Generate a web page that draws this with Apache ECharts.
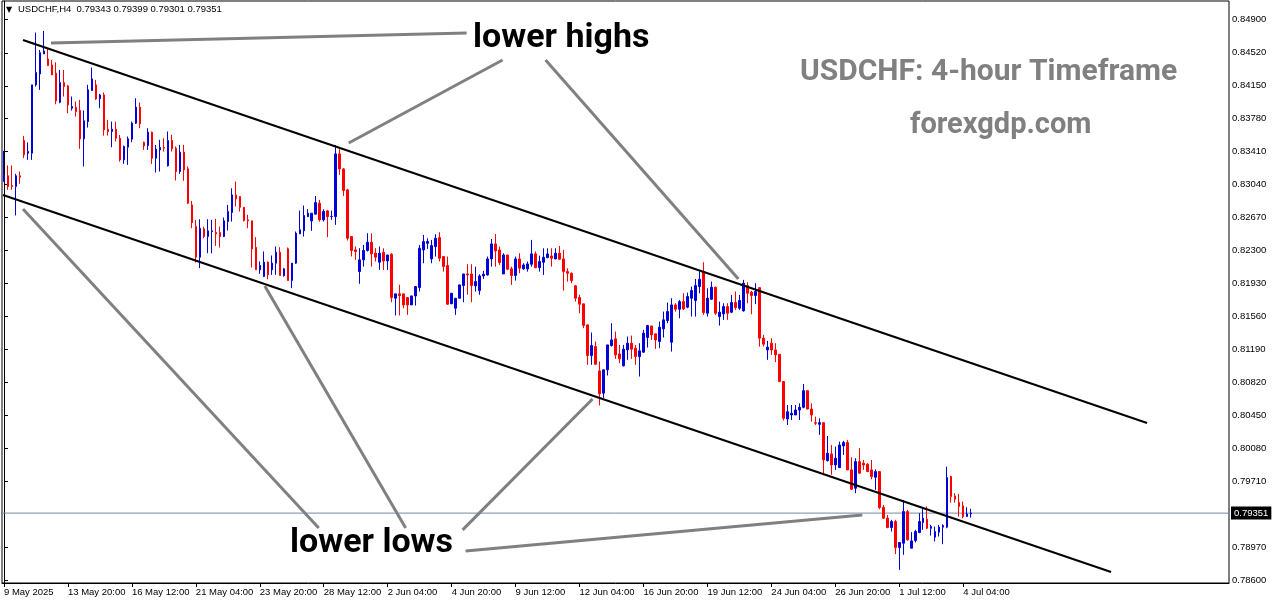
<!DOCTYPE html>
<html><head><meta charset="utf-8">
<script src="https://cdn.jsdelivr.net/npm/echarts@6/dist/echarts.min.js"></script>
<style>html,body{margin:0;padding:0;background:#fff}#c{width:1276px;height:604px}</style>
</head><body><div id="c"></div>
<script>
// ---- data (USDCHF H4 candles) ----
const openP = [
.83075,.83139,.83030,.83019,.83139,.83535,.83393,.83393,.84160,.84283,
.84508,.84451,.84384,.84291,.83965,.84186,.84148,.83898,.83909,.83872,
.83554,.83748,.84096,.84160,.84006,.84047,.83662,.83636,.83662,.83561,
.83318,.83460,.83550,.83730,.83909,.83513,.83479,.83629,.83337,.83430,
.83457,.83251,.83535,.83449,.83187,.83404,.83217,.82812,.82569,.82225,
.82543,.82457,.82513,.82502,.82502,.82457,.82625,.82726,.82924,.82906,
.82786,.82644,.82633,.82334,.82083,.82008,.82169,.82083,.82158,.82281,
.82016,.82319,.81963,.82158,.82487,.82521,.82681,.82633,.82708,.82831,
.82644,.82745,.82681,.82681,.83385,.83216,.82981,.82457,.82307,.82064,
.82195,.82300,.82393,.82270,.82169,.82280,.82183,.82258,.81764,.81813,
.81813,.81772,.81689,.81790,.81884,.82306,.82381,.82206,.82344,.82445,
.82232,.82131,.81701,.81652,.81764,.81906,.82037,.82037,.81903,.81850,
.82015,.82026,.82206,.82374,.82306,.82037,.82250,.82094,.82019,.82206,
.82094,.82094,.82146,.82262,.82108,.82168,.82220,.82239,.82206,.82269,
.82206,.82063,.82045,.81903,.81772,.81701,.81465,.81121,.81221,.80948,
.80698,.80960,.81233,.81308,.81139,.81005,.81184,.81259,.81203,.81109,
.81158,.81323,.81453,.81364,.81278,.81420,.81513,.81270,.81689,.81640,
.81726,.81663,.81764,.81738,.81895,.82063,.81596,.81753,.81887,.81558,
.81588,.81670,.81607,.81715,.81652,.81622,.81906,.81831,.81794,.81883,
.81315,.81184,.81259,.81184,.81135,.80829,.80408,.80453,.80453,.80509,
.80539,.80726,.80520,.80367,.80348,.80367,.79941,.80016,.79892,.79862,
.80105,.80143,.79836,.79630,.79929,.79911,.79900,.79836,.79754,.79817,
.79417,.79294,.79189,.79256,.78965,.79013,.79368,.78957,.79043,.79133,
.79245,.79282,.79181,.79081,.79137,.79193,.79193,.79761,.79544,.79469,
.79432,.79312,.79343];
const highP = [
.83419,.83255,.83255,.83161,.83187,.83587,.83513,.84160,.84747,.84552,
.84766,.84571,.84440,.84414,.84328,.84328,.84160,.84029,.83973,.83991,
.83872,.84160,.84354,.84216,.84059,.84074,.83767,.83748,.83748,.83599,
.83479,.83580,.83748,.84010,.83961,.83524,.83673,.83636,.83486,.83543,
.83561,.83636,.83599,.83468,.83486,.83486,.83243,.82857,.82644,.82651,
.82569,.82651,.82644,.82655,.82569,.82670,.82812,.82999,.83074,.82906,
.82786,.82700,.82633,.82450,.82176,.82289,.82176,.82244,.82345,.82337,
.82102,.82334,.82158,.82513,.82749,.82805,.82764,.82719,.82913,.82868,
.82764,.82756,.82749,.83485,.83448,.83224,.82992,.82457,.82345,.82326,
.82363,.82494,.82494,.82326,.82345,.82325,.82250,.82269,.81813,.81914,
.81813,.81772,.81790,.81895,.82363,.82475,.82437,.82419,.82482,.82505,
.82232,.82232,.81820,.81764,.81914,.82037,.82146,.82146,.82119,.82033,
.82071,.82232,.82430,.82486,.82344,.82269,.82250,.82119,.82232,.82269,
.82157,.82176,.82419,.82288,.82243,.82325,.82325,.82325,.82325,.82351,
.82306,.82101,.82052,.81914,.81802,.81701,.81465,.81379,.81278,.81053,
.80960,.81240,.81483,.81390,.81240,.81240,.81334,.81345,.81240,.81259,
.81409,.81465,.81453,.81364,.81502,.81614,.81715,.81764,.81708,.81745,
.81820,.81827,.81895,.81981,.82063,.82168,.81876,.81951,.81895,.81726,
.81708,.81708,.81801,.81839,.81801,.81970,.81943,.81846,.81932,.81883,
.81352,.81285,.81315,.81259,.81135,.80829,.80565,.80565,.80565,.80584,
.80801,.80726,.80584,.80434,.80416,.80367,.80217,.80116,.80098,.80154,
.80161,.80173,.79978,.79967,.80079,.79948,.79911,.79948,.79843,.79817,
.79443,.79331,.79275,.79275,.79021,.79499,.79387,.79137,.79163,.79350,
.79406,.79425,.79219,.79200,.79219,.79226,.79873,.79769,.79574,.79567,
.79481,.79417,.79399];
const lowP = [
.83075,.82982,.82982,.82694,.83049,.83337,.83318,.83318,.84141,.84104,
.84508,.84377,.84272,.83943,.83954,.84029,.83842,.83872,.83804,.83442,
.83243,.83681,.84096,.83991,.83898,.83591,.83591,.83460,.83524,.83299,
.83273,.83262,.83516,.83722,.83673,.83430,.83430,.83273,.83176,.83187,
.83412,.83243,.83412,.83086,.83161,.83083,.82821,.82550,.82165,.82102,
.82438,.82270,.82270,.82352,.82334,.82450,.82524,.82625,.82794,.82737,
.82625,.82550,.82109,.82083,.82038,.82001,.81978,.82027,.82027,.82019,
.82008,.81963,.81877,.82150,.82487,.82457,.82674,.82521,.82708,.82625,
.82625,.82450,.82644,.82588,.83149,.82913,.82412,.82233,.82195,.81926,
.82120,.82289,.82120,.82176,.82083,.82082,.82082,.81719,.81570,.81570,
.81652,.81577,.81689,.81682,.81839,.82157,.82318,.82157,.82232,.82176,
.82063,.81689,.81701,.81577,.81764,.81719,.81802,.81719,.81839,.81802,
.81981,.82019,.82119,.82119,.82138,.82037,.82082,.81914,.81962,.82045,
.82082,.82063,.82119,.82101,.82063,.82026,.82213,.82119,.82202,.82194,
.81850,.81951,.81932,.81727,.81596,.81428,.81016,.81016,.81016,.80560,
.80642,.80896,.81221,.81083,.81035,.80997,.81072,.81083,.81016,.80885,
.81154,.81210,.81296,.81195,.81203,.81323,.81483,.81165,.81614,.81539,
.81633,.81652,.81558,.81558,.81820,.81577,.81558,.81745,.81577,.81457,
.81521,.81521,.81596,.81633,.81633,.81614,.81708,.81584,.81697,.81221,
.81221,.81072,.81128,.81046,.80821,.80391,.80341,.80397,.80453,.80397,
.80528,.80517,.80378,.80341,.80229,.79799,.79929,.79780,.79836,.79862,
.80004,.79836,.79612,.79574,.79799,.79836,.79817,.79731,.79612,.79395,
.79286,.79181,.79144,.78890,.78714,.78882,.79043,.78957,.79021,.79125,
.79163,.79170,.79099,.79032,.79088,.79002,.79181,.79469,.79469,.79312,
.79294,.79312,.79301];
const closeP = [
.83139,.83019,.83019,.83139,.83124,.83374,.83412,.84160,.84298,.84522,
.84541,.84377,.84272,.83980,.84186,.84141,.83935,.83917,.83860,.83554,
.83756,.84104,.84227,.84003,.84047,.83655,.83636,.83662,.83561,.83318,
.83468,.83554,.83730,.83909,.83722,.83475,.83629,.83337,.83438,.83457,
.83449,.83535,.83442,.83187,.83404,.83206,.82832,.82614,.82225,.82550,
.82457,.82521,.82521,.82487,.82457,.82633,.82737,.82924,.82880,.82786,
.82637,.82633,.82319,.82083,.82132,.82169,.82027,.82158,.82281,.82019,
.82094,.81963,.82158,.82494,.82532,.82693,.82719,.82719,.82838,.82644,
.82737,.82681,.82681,.83385,.83216,.82973,.82438,.82300,.82289,.82195,
.82300,.82393,.82263,.82225,.82270,.82183,.82250,.81772,.81813,.81794,
.81689,.81689,.81790,.81895,.82325,.82400,.82400,.82355,.82437,.82213,
.82119,.81697,.81820,.81764,.81914,.82037,.82026,.81906,.81951,.82015,
.82033,.82206,.82374,.82295,.82164,.82250,.82090,.82019,.82206,.82101,
.82138,.82149,.82262,.82108,.82176,.82224,.82262,.82213,.82269,.82202,
.82063,.82045,.81962,.81764,.81697,.81458,.81121,.81233,.81023,.80690,
.80960,.81240,.81296,.81128,.81083,.81192,.81259,.81192,.81109,.81173,
.81371,.81457,.81352,.81296,.81438,.81521,.81614,.81689,.81640,.81726,
.81644,.81783,.81850,.81906,.81977,.81603,.81764,.81887,.81596,.81607,
.81670,.81596,.81715,.81659,.81738,.81932,.81820,.81794,.81839,.81315,
.81248,.81214,.81184,.81128,.80829,.80417,.80490,.80472,.80509,.80539,
.80726,.80520,.80453,.80360,.80367,.79948,.80023,.79892,.79967,.80116,
.80143,.79836,.79619,.79929,.79799,.79892,.79817,.79761,.79817,.79413,
.79294,.79189,.79256,.78965,.79021,.79368,.79051,.79039,.79144,.79256,
.79294,.79181,.79200,.79144,.79193,.79211,.79750,.79537,.79507,.79425,
.79312,.79342,.79351];
// x-axis tick labels, one every 16 bars
const tickLabels = ["9 May 2025","13 May 20:00","16 May 12:00","21 May 04:00","23 May 20:00",
  "28 May 12:00","2 Jun 04:00","4 Jun 20:00","9 Jun 12:00","12 Jun 04:00","16 Jun 20:00",
  "19 Jun 12:00","24 Jun 04:00","26 Jun 20:00","1 Jul 12:00","4 Jul 04:00"];
const tickStep = 16;
const totalSlots = 307; // bars + empty chart shift on the right
// price axis labels
const priceTicks = [0.78600,0.78970,0.79710,0.80080,0.80450,0.80820,0.81190,0.81560,0.81930,
  0.82300,0.82670,0.83040,0.83410,0.83780,0.84150,0.84520,0.84900];
const priceMin = 0.78566, priceMax = 0.85102;
// channel lines and pointer lines in (bar index, price)
const upperChannel = [[4.75,0.84664],[286,0.80363]];
const lowerChannel = [[-0.25,0.82924],[277,0.78690]];
const highPointers = [
  [[11.75,0.84631],[115.75,0.84743]],
  [[86.25,0.83507],[124.75,0.84440]],
  [[135.5,0.84440],[183.75,0.81980]]];
const lowPointers = [
  [[4.75,0.82766],[78.75,0.79184]],
  [[65.25,0.81902],[100.5,0.79184]],
  [[114.75,0.79162],[147.25,0.80633]],
  [[115.5,0.78926],[214.75,0.79330]]];
const headerText = "USDCHF,H4  0.79343 0.79399 0.79301 0.79351";

// ---- chart ----
const cats = [];
for (let i = 0; i < totalSlots; i++) {
  cats.push(i % tickStep === 0 && i / tickStep < tickLabels.length ? tickLabels[i / tickStep] : '');
}
const candles = openP.map((o, i) => [o, closeP[i], lowP[i], highP[i]]);
const lastClose = closeP[closeP.length - 1];
const AX = 'Liberation Sans';
const showTick = (idx, val) => val !== '';

function seg(data, color, width) {
  return { type: 'line', xAxisIndex: 1, yAxisIndex: 0, data: data, symbol: 'none',
    silent: true, animation: false, z: 5,
    lineStyle: { color: color, width: width } };
}
const series = [{
  type: 'candlestick', xAxisIndex: 0, yAxisIndex: 0, data: candles, barWidth: 2, z: 3,
  itemStyle: { color: '#0000d8', color0: '#ff0000', borderColor: '#0000d8', borderColor0: '#ff0000', borderWidth: 1 }
}];
// current price (bid) line with its label on the price axis
const bidLine = seg([[-0.5, lastClose], [totalSlots - 0.5, lastClose]], '#778899', 1);
bidLine.z = 2;
bidLine.clip = false;
bidLine.endLabel = { show: true, distance: 2, formatter: () => lastClose.toFixed(5),
  backgroundColor: '#000', color: '#fff', fontFamily: AX, fontSize: 9.5, padding: [2, 3, 1, 3] };
series.push(bidLine);
series.push(seg(upperChannel, '#000', 2));
series.push(seg(lowerChannel, '#000', 2));
highPointers.forEach(p => series.push(seg(p, '#808080', 3)));
lowPointers.forEach(p => series.push(seg(p, '#808080', 3)));

const chart = echarts.init(document.getElementById('c'), null, { renderer: 'canvas' });
chart.setOption({
  animation: false,
  backgroundColor: '#fff',
  grid: { left: 2, right: 47, top: 1, bottom: 21, show: true, borderColor: '#000', borderWidth: 1, backgroundColor: '#fff' },
  xAxis: [{
    type: 'category', data: cats, boundaryGap: true,
    axisLine: { show: true, lineStyle: { color: '#000' } },
    axisTick: { show: true, alignWithLabel: true, interval: showTick, length: 4, lineStyle: { color: '#000' } },
    axisLabel: { interval: showTick, align: 'left', color: '#000', fontFamily: AX, fontSize: 9.5, margin: 4 },
    splitLine: { show: false }
  }, {
    type: 'value', min: -0.5, max: totalSlots - 0.5, show: false
  }],
  yAxis: [{
    type: 'value', position: 'right', min: priceMin, max: priceMax, scale: true,
    axisLine: { show: true, lineStyle: { color: '#000' } },
    axisTick: { show: true, length: 4, customValues: priceTicks, lineStyle: { color: '#000' } },
    axisLabel: { customValues: priceTicks, color: '#000', fontFamily: AX, fontSize: 9.5, margin: 3,
      formatter: v => v.toFixed(5) },
    splitLine: { show: false }
  }],
  series: series,
  graphic: [
    { type: 'text', left: 6, top: 6, silent: true, style: { text: '▼', fontSize: 8, fill: '#000', fontFamily: 'DejaVu Sans' } },
    { type: 'text', left: 18, top: 4, silent: true, style: { text: headerText, fontSize: 9.5, fill: '#000', fontFamily: AX } },
    { type: 'text', x: 473, y: 38, silent: true, style: { text: 'lower highs', fontSize: 34, fontWeight: 'bold', fontFamily: 'Roboto', fill: '#000', verticalAlign: 'middle', align: 'left' } },
    { type: 'text', x: 290, y: 543, silent: true, style: { text: 'lower lows', fontSize: 34, fontWeight: 'bold', fontFamily: 'Roboto', fill: '#000', verticalAlign: 'middle', align: 'left' } },
    { type: 'text', x: 800, y: 72, silent: true, style: { text: 'USDCHF: 4-hour Timeframe', fontSize: 30, fontWeight: 'bold', fontFamily: 'Roboto', fill: '#808080', verticalAlign: 'middle', align: 'left' } },
    { type: 'text', x: 910, y: 126, silent: true, style: { text: 'forexgdp.com', fontSize: 29, fontWeight: 'bold', fontFamily: 'Roboto', fill: '#808080', verticalAlign: 'middle', align: 'left' } }
  ]
});
</script></body></html>
